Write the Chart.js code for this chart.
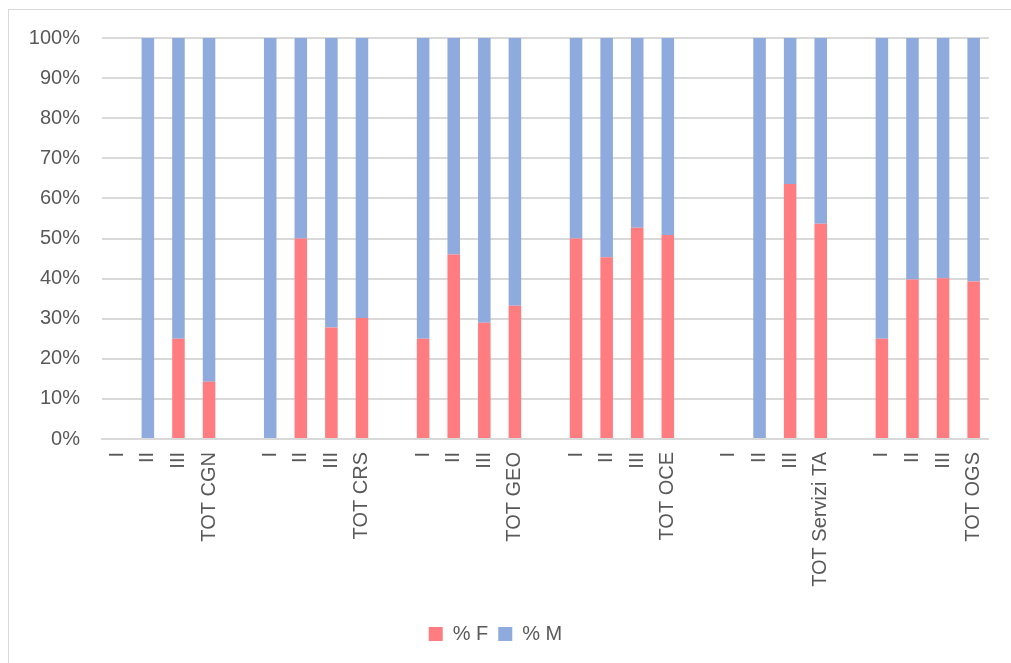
<!DOCTYPE html>
<html>
<head>
<meta charset="utf-8">
<script src="https://cdn.jsdelivr.net/npm/chart.js@4.4.0/dist/chart.umd.min.js"></script>
<style>
 html, body { margin:0; padding:0; background:#fff; overflow:hidden; }
 #frame { position:absolute; left:8px; top:9px; width:1020px; height:670px; border:1px solid #d9d9d9; }
 #wrap { position:absolute; left:0; top:0; width:1011px; height:663px; }
</style>
</head>
<body>
<div id="frame"></div>
<div id="wrap"><canvas id="chart"></canvas></div>
<script>
// categories (empty strings are the gaps between the groups)
const labels = [
 'I','II','III','TOT CGN','',
 'I','II','III','TOT CRS','',
 'I','II','III','TOT GEO','',
 'I','II','III','TOT OCE','',
 'I','II','III','TOT Servizi TA','',
 'I','II','III','TOT OGS'
]

const pctF = [
 null,0,25,14.3,null,
 0,50,27.8,30.2,null,
 25,46,29,33.2,null,
 50,45.3,52.7,50.9,null,
 null,0,63.6,53.7,null,
 25,39.8,40.1,39.3
]

const pctM = [
 null,100,75,85.7,null,
 100,50,72.2,69.8,null,
 75,54,71,66.8,null,
 50,54.7,47.3,49.1,null,
 null,100,36.4,46.3,null,
 75,60.2,59.9,60.7
]

const txt = '#595959'
const grid = '#d9d9d9'
const font = {family:"'Liberation Sans', Arial, sans-serif", size:20}

new Chart(document.getElementById('chart'), {
 type: 'bar',
 data: {
  labels: labels,
  datasets: [{
   label: '% F',
   data: pctF,
   backgroundColor: '#FF7C80',
   barPercentage: 0.41,
   categoryPercentage: 1
  },{
   label: '% M',
   data: pctM,
   backgroundColor: '#8FAADC',
   barPercentage: 0.41,
   categoryPercentage: 1
  }]
 },
 options: {
  responsive: true,
  maintainAspectRatio: false,
  animation: false,
  layout: { padding: {top: 38, right: 20, bottom: 9, left: 0} },
  plugins: {
   tooltip: {enabled:false},
   legend: {
    position: 'bottom',
    labels: {color: txt, font: font, boxWidth: 14, boxHeight: 14, padding: 10}
   }
  },
  scales: {
   x: {
    stacked: true,
    grid: {display:false, drawTicks:false},
    border: {color: grid, width: 2},
    ticks: {color: txt, font: font, minRotation: 90, maxRotation: 90, autoSkip: false, padding: 13},
    afterFit: s => { s.height = 175 }
   },
   y: {
    stacked: true,
    min: 0, max: 100,
    grid: {color: grid, lineWidth: 2, drawTicks:false},
    border: {display:false},
    ticks: {color: txt, font: font, stepSize: 10, padding: 22, callback: v => v + '%'},
    afterFit: s => { s.width = 102 }
   }
  }
 }
})
</script>
</body>
</html>
